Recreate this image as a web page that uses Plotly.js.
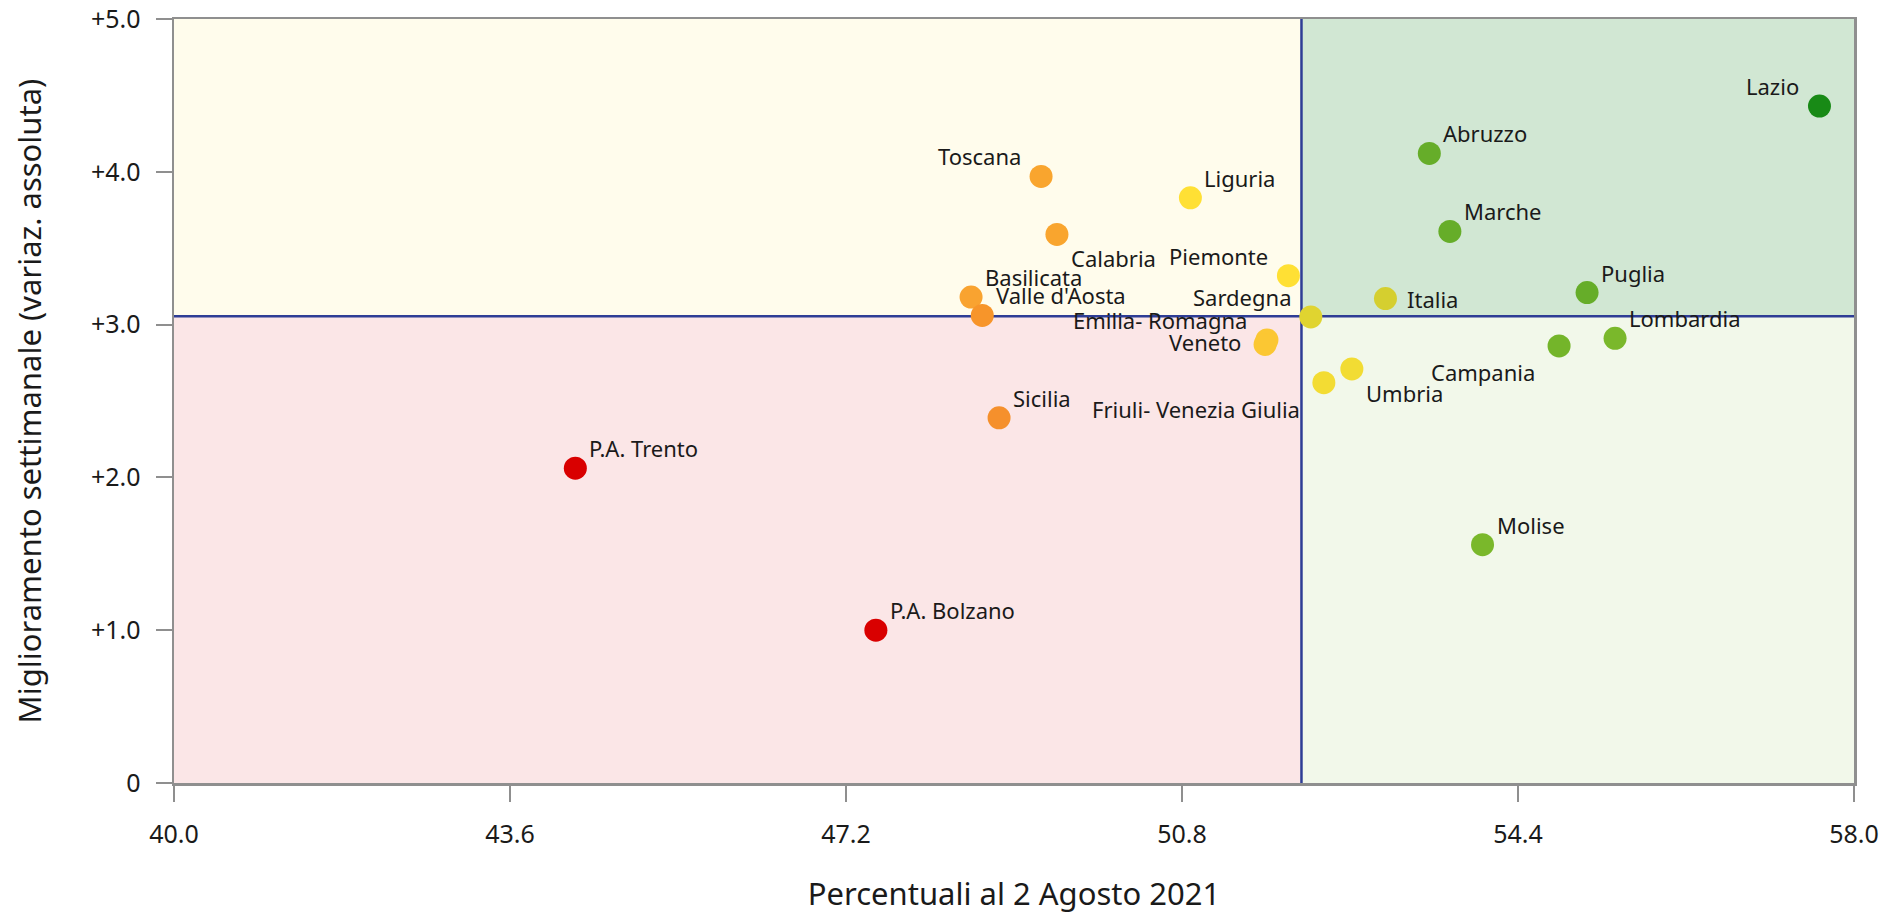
<!DOCTYPE html>
<html>
<head>
<meta charset="utf-8">
<script src="https://cdn.plot.ly/plotly-3.0.1.min.js"></script>
<style>html,body{margin:0;padding:0;background:#fff;}#chart{width:1885px;height:917px;}</style>
</head>
<body>
<div id="chart"></div>
<script>
// ---- data ----
const regions = ["Lazio","Abruzzo","Marche","Puglia","Lombardia","Campania","Molise","Italia","Sardegna","Piemonte","Liguria","Toscana","Calabria","Basilicata","Valle d'Aosta","Emilia- Romagna","Veneto","Umbria","Friuli- Venezia Giulia","Sicilia","P.A. Trento","P.A. Bolzano"];
const pctVax = [57.63,53.45,53.67,55.14,55.44,54.84,54.02,52.98,52.18,51.94,50.89,49.29,49.46,48.54,48.66,51.71,51.69,52.62,52.32,48.84,44.30,47.52];
const weeklyGain = [4.43,4.12,3.61,3.21,2.91,2.86,1.56,3.17,3.05,3.32,3.83,3.97,3.59,3.18,3.06,2.90,2.87,2.71,2.62,2.39,2.06,1.00];
const xTickVals = [40.0,43.6,47.2,50.8,54.4,58.0];
const yTickVals = [0,1,2,3,4,5];
const yTickText = ["0","+1.0","+2.0","+3.0","+4.0","+5.0"];
const xThreshold = 52.08;
const yThreshold = 3.055;

// ---- styles ----
const colors = ["#188a16","#66ad29","#66ad29","#66ad29","#7ab82b","#74b52a","#7ab82b","#d5cf2f","#e0d430","#ffe034","#ffe034","#f9a52e","#f9a52e","#f9a330","#f7952a","#fbc733","#fbc733","#f2dc33","#f3dc33","#f5902c","#d90000","#d90000"];
// label placement relative to the dot
const labelPos = ["tl","tr","tr","tr","tr","bl","tr","r","tl","tl","tr","tl","br","tr","tr","tl","l","br","bl","tr","tr","tr"];

const FONT = "Noto Sans, Open Sans, sans-serif";
const placement = {
  tr: {xanchor:"left", xshift:12, yshift:20},
  tl: {xanchor:"right", xshift:-18, yshift:20},
  br: {xanchor:"left", xshift:12, yshift:-24},
  bl: {xanchor:"right", xshift:-22, yshift:-26},
  r:  {xanchor:"left", xshift:20, yshift:0},
  l:  {xanchor:"right", xshift:-22, yshift:2}
};

const annotations = regions.map((name, i) => {
  const p = placement[labelPos[i]];
  return {
    x: pctVax[i], y: weeklyGain[i], xref:"x", yref:"y",
    text: name, showarrow:false,
    xanchor:p.xanchor, yanchor:"middle",
    xshift:p.xshift, yshift:p.yshift,
    font:{family:FONT, size:22, color:"#1a1a1a"}
  };
});

const shapes = [
  {type:"rect", xref:"x", yref:"y", x0:40, x1:xThreshold, y0:yThreshold, y1:5, fillcolor:"#fffcec", line:{width:0}, layer:"below"},
  {type:"rect", xref:"x", yref:"y", x0:xThreshold, x1:58, y0:yThreshold, y1:5, fillcolor:"#d1e7d3", line:{width:0}, layer:"below"},
  {type:"rect", xref:"x", yref:"y", x0:40, x1:xThreshold, y0:0, y1:yThreshold, fillcolor:"#fbe6e7", line:{width:0}, layer:"below"},
  {type:"rect", xref:"x", yref:"y", x0:xThreshold, x1:58, y0:0, y1:yThreshold, fillcolor:"#f2f8ea", line:{width:0}, layer:"below"},
  {type:"line", xref:"x", yref:"y", x0:xThreshold, x1:xThreshold, y0:0, y1:5, line:{color:"#2e3d95", width:2.5}, layer:"below"},
  {type:"line", xref:"x", yref:"y", x0:40, x1:58, y0:yThreshold, y1:yThreshold, line:{color:"#2e3d95", width:2.5}, layer:"below"}
];

const trace = {
  type:"scatter", mode:"markers",
  x: pctVax, y: weeklyGain, text: regions,
  marker:{size:23, color:colors, line:{width:0}},
  hoverinfo:"text"
};

const layout = {
  width:1885, height:917,
  margin:{l:174, r:31, t:19, b:134},
  paper_bgcolor:"#ffffff", plot_bgcolor:"#ffffff",
  showlegend:false,
  font:{family:FONT, color:"#1a1a1a"},
  xaxis:{
    range:[40,58], tickvals:xTickVals, tickformat:".1f",
    showgrid:false, zeroline:false,
    showline:true, linecolor:"#8f8f8f", linewidth:2.5, mirror:true,
    ticks:"outside", ticklen:16, tickwidth:2, tickcolor:"#8f8f8f",
    ticklabelstandoff:11,
    tickfont:{family:FONT, size:25, color:"#1a1a1a"},
    title:{text:"Percentuali al 2 Agosto 2021", font:{family:FONT, size:31, color:"#1a1a1a"}, standoff:35},
    automargin:false
  },
  yaxis:{
    range:[0,5], tickvals:yTickVals, tickformat:"", ticktext:yTickText,
    showgrid:false, zeroline:false,
    showline:true, linecolor:"#8f8f8f", linewidth:2.5, mirror:true,
    ticks:"outside", ticklen:16, tickwidth:2, tickcolor:"#8f8f8f",
    ticklabelstandoff:10,
    tickfont:{family:FONT, size:25, color:"#1a1a1a"},
    title:{text:"Miglioramento settimanale (variaz. assoluta)", font:{family:FONT, size:31, color:"#1a1a1a"}, standoff:40},
    automargin:false
  },
  shapes: shapes,
  annotations: annotations
};

Plotly.newPlot("chart", [trace], layout, {displayModeBar:false, staticPlot:true});
</script>
</body>
</html>
